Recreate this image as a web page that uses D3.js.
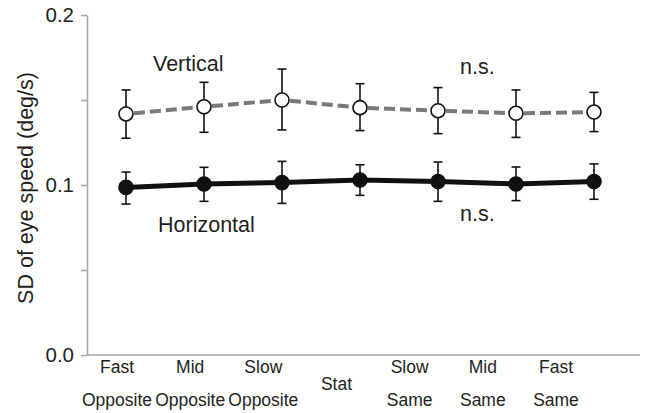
<!DOCTYPE html>
<html>
<head>
<meta charset="utf-8">
<script src="https://cdn.jsdelivr.net/npm/d3@7"></script>
<style>
  html, body { margin: 0; padding: 0; background: #fff; }
  svg { display: block; font-family: "Liberation Sans", Arial, Helvetica, sans-serif; }
</style>
</head>
<body>
<svg id="chart" width="646" height="413"></svg>
<script>
// ---- data ----
const categories = ["Fast Opposite", "Mid Opposite", "Slow Opposite", "Stat", "Slow Same", "Mid Same", "Fast Same"];
const labelLine1 = ["Fast", "Mid", "Slow", "", "Slow", "Mid", "Fast"];
const labelLine2 = ["Opposite", "Opposite", "Opposite", "", "Same", "Same", "Same"];
const labelMid   = ["", "", "", "Stat", "", "", ""];

const verticalMean  = [0.1418, 0.1460, 0.1500, 0.1455, 0.1437, 0.1422, 0.1429];
const verticalUpper = [0.1559, 0.1604, 0.1682, 0.1596, 0.1573, 0.1559, 0.1545];
const verticalLower = [0.1275, 0.1310, 0.1324, 0.1320, 0.1302, 0.1280, 0.1314];

const horizontalMean  = [0.0986, 0.1006, 0.1014, 0.1029, 0.1020, 0.1006, 0.1020];
const horizontalUpper = [0.1076, 0.1104, 0.1139, 0.1119, 0.1135, 0.1106, 0.1124];
const horizontalLower = [0.0888, 0.0904, 0.0892, 0.0939, 0.0904, 0.0908, 0.0916];

const yTicks = [0, 0.05, 0.1, 0.15, 0.2];
const yTickLabels = ["0.0", "", "0.1", "", "0.2"];
const yLabel = "SD of eye speed (deg/s)";

// ---- layout ----
const svg = d3.select("#chart");
const axisLeftX = 87, axisRightX = 640;
const y = d3.scaleLinear().domain([0, 0.2]).range([355, 15]);
const x = d3.scalePoint().domain(categories).range([126, 594]);
// category labels sit on their own, slightly narrower, spacing
const xLab = d3.scalePoint().domain(categories).range([117, 556]);
const axisColor = "#a8a8a8";
const textColor = "#231f20";

// y axis
const yAxis = d3.axisLeft(y).tickValues(yTicks)
  .tickFormat((d, i) => yTickLabels[i]).tickSize(6).tickSizeOuter(0).tickPadding(7);
const gy = svg.append("g").attr("transform", `translate(${axisLeftX},0)`).call(yAxis);
gy.select(".domain").attr("stroke", axisColor).attr("stroke-width", 1.6);
gy.selectAll(".tick line").attr("stroke", axisColor).attr("stroke-width", 1.6);
gy.selectAll(".tick text").attr("fill", textColor).attr("font-size", 20.5)
  .attr("font-family", "Liberation Sans, Arial, sans-serif");

// x axis line
svg.append("line")
  .attr("x1", axisLeftX).attr("x2", axisRightX)
  .attr("y1", y(0)).attr("y2", y(0))
  .attr("stroke", axisColor).attr("stroke-width", 1.6);

// x labels
const xl = svg.append("g").attr("fill", textColor).attr("font-size", 17.5).attr("text-anchor", "middle");
categories.forEach((c, i) => {
  if (labelLine1[i]) xl.append("text").attr("x", xLab(c)).attr("y", 373).text(labelLine1[i]);
  if (labelLine2[i]) xl.append("text").attr("x", xLab(c)).attr("y", 406).text(labelLine2[i]);
  if (labelMid[i]) xl.append("text").attr("x", xLab(c)).attr("y", 390).text(labelMid[i]);
});

// y label
svg.append("text")
  .attr("transform", "translate(33,188) rotate(-90)")
  .attr("text-anchor", "middle").attr("font-size", 21.5).attr("fill", textColor)
  .text(yLabel);

function drawSeries(mean, upper, lower, opts) {
  const g = svg.append("g");
  const pts = categories.map((c, i) => ({ c, m: mean[i], u: upper[i], l: lower[i] }));
  // error bars
  const eb = g.selectAll(".eb").data(pts).enter().append("g").attr("stroke", "#111").attr("stroke-width", 1.6);
  eb.append("line").attr("x1", d => x(d.c)).attr("x2", d => x(d.c)).attr("y1", d => y(d.u)).attr("y2", d => y(d.l));
  eb.append("line").attr("x1", d => x(d.c) - 4.5).attr("x2", d => x(d.c) + 4.5).attr("y1", d => y(d.u)).attr("y2", d => y(d.u));
  eb.append("line").attr("x1", d => x(d.c) - 4.5).attr("x2", d => x(d.c) + 4.5).attr("y1", d => y(d.l)).attr("y2", d => y(d.l));
  // line
  const line = d3.line().x(d => x(d.c)).y(d => y(d.m));
  if (opts.dashed) {
    for (let i = 0; i < pts.length - 1; i++) {
      g.append("path").datum([pts[i], pts[i + 1]]).attr("d", line)
        .attr("fill", "none").attr("stroke", opts.lineColor).attr("stroke-width", opts.lineWidth)
        .attr("stroke-dasharray", "11,5").attr("stroke-dashoffset", -8);
    }
  } else {
    g.append("path").datum(pts).attr("d", line)
      .attr("fill", "none").attr("stroke", opts.lineColor).attr("stroke-width", opts.lineWidth)
      .attr("stroke-linejoin", "round");
  }
  // markers
  g.selectAll(".pt").data(pts).enter().append("circle")
    .attr("cx", d => x(d.c)).attr("cy", d => y(d.m)).attr("r", 7)
    .attr("fill", opts.fill).attr("stroke", "#111").attr("stroke-width", 1.6);
}

drawSeries(verticalMean, verticalUpper, verticalLower, { dashed: true, lineColor: "#7a7a7a", lineWidth: 4, fill: "#fff" });
drawSeries(horizontalMean, horizontalUpper, horizontalLower, { dashed: false, lineColor: "#111", lineWidth: 5, fill: "#111" });

// annotations
const ann = svg.append("g").attr("fill", textColor).attr("font-size", 21.5);
ann.append("text").attr("x", 153).attr("y", 71).text("Vertical");
ann.append("text").attr("x", 460).attr("y", 74).text("n.s.");
ann.append("text").attr("x", 158).attr("y", 232).text("Horizontal");
ann.append("text").attr("x", 460).attr("y", 221).text("n.s.");
</script>
</body>
</html>
